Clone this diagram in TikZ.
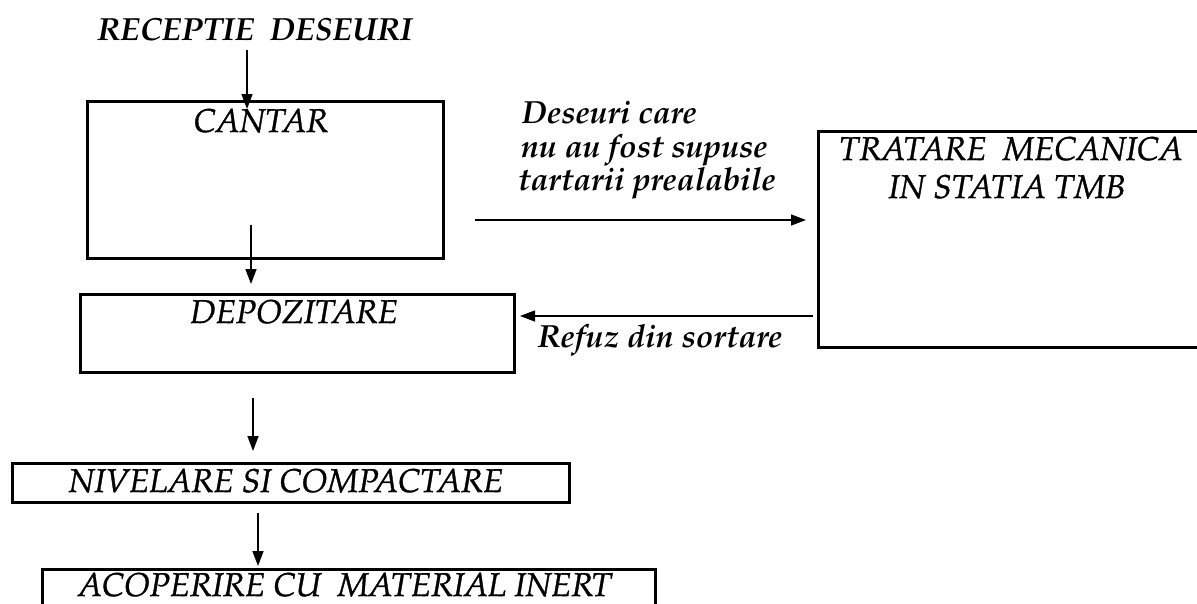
\documentclass[tikz,border=0pt]{standalone}
\usepackage[T1]{fontenc}
\renewcommand{\rmdefault}{ppl}
\usetikzlibrary{arrows.meta}
\newcommand{\heavytext}[1]{\special{pdf:literal direct 2 Tr 0.35 w}#1\special{pdf:literal direct 0 Tr}}
\tikzset{
  box/.style={draw, line width=2.6pt, anchor=north west, inner sep=0pt},
  txt/.style={inner sep=0pt, font=\fontsize{33}{38}\selectfont\itshape},
  btxt/.style={inner sep=0pt, font=\fontsize{32}{37}\selectfont\bfseries\itshape},
  arr/.style={line width=1.4pt, -{Triangle[length=15pt,width=11pt]}},
}
\begin{document}
\begin{tikzpicture}[x=1pt,y=-1pt]
\clip (0,0) rectangle (1197,603);
\fill[white] (0,0) rectangle (1197,603);
% boxes
\node[box, minimum width=356pt, minimum height=157pt] (cantar) at (86,100) {};
\node[box, minimum width=434pt, minimum height=78pt] (depoz) at (79,293) {};
\node[box, minimum width=420pt, minimum height=216pt] (tmb) at (817,130) {};
\node[box, minimum width=557pt, minimum height=39pt] (nivel) at (11,462) {};
\node[box, minimum width=613pt, minimum height=60pt] (acop) at (41,568) {};
% texts
\node[btxt, anchor=base] (rec) at (255,40) {RECEPTIE\ \ DESEURI};
\node[txt, anchor=base] (tcantar) at (261,132) {\heavytext{CANTAR}};
\node[txt, anchor=base] (tdepoz) at (294,323) {\heavytext{DEPOZITARE}};
\node[txt, anchor=base] (ttmb1) at (1011,160) {\heavytext{TRATARE\ \ MECANICA}};
\node[txt, anchor=base] (ttmb2) at (1007,198) {\heavytext{IN STATIA TMB}};
\node[txt, anchor=base] (tnivel) at (286,492) {\heavytext{NIVELARE SI COMPACTARE}};
\node[txt, anchor=base] (tacop) at (345,596) {\heavytext{ACOPERIRE CU\ \ MATERIAL INERT}};
\node[btxt, anchor=base west] (l1) at (522,123) {Deseuri care};
\node[btxt, anchor=base west] (l2) at (521,157) {nu au fost supuse};
\node[btxt, anchor=base west] (l3) at (518,190) {tartarii prealabile};
\node[btxt, anchor=base] (refuz) at (660,347) {Refuz din sortare};
% connector end points
\coordinate (a1s) at (247,50);  \coordinate (a1e) at (247,109);
\coordinate (a2s) at (251,225); \coordinate (a2e) at (251,284);
\coordinate (a3s) at (475,220); \coordinate (a3e) at (806,220);
\coordinate (a4s) at (813,316); \coordinate (a4e) at (520,316);
\coordinate (a5s) at (253,398); \coordinate (a5e) at (253,451);
\coordinate (a6s) at (258,513); \coordinate (a6e) at (258,566);
\draw[arr] (a1s) -- (a1e);
\draw[arr] (a2s) -- (a2e);
\draw[arr] (a3s) -- (a3e);
\draw[arr] (a4s) -- (a4e);
\draw[arr] (a5s) -- (a5e);
\draw[arr] (a6s) -- (a6e);
\end{tikzpicture}
\end{document}
